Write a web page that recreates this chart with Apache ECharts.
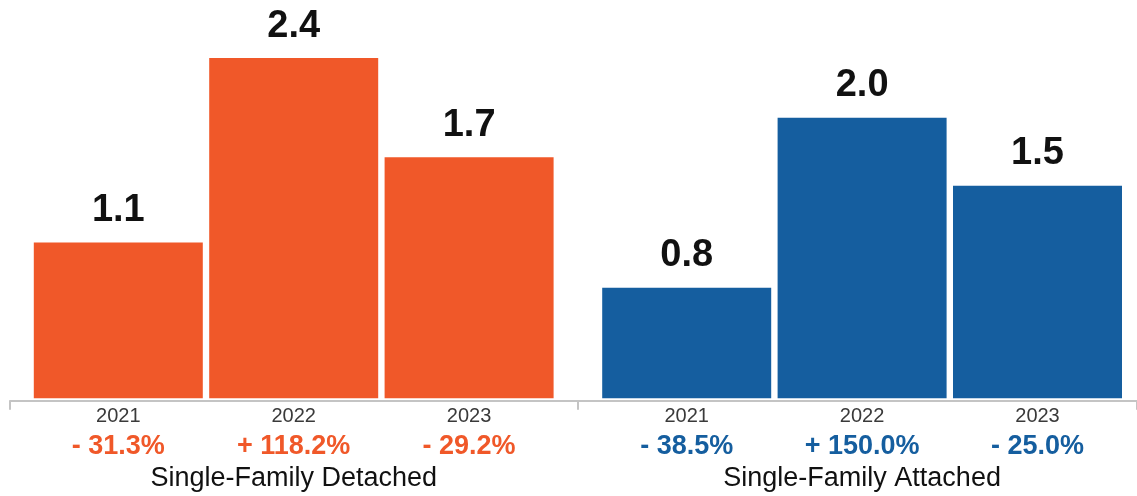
<!DOCTYPE html>
<html>
<head>
<meta charset="utf-8">
<script src="https://cdn.jsdelivr.net/npm/echarts@6/dist/echarts.min.js"></script>
<style>
html,body{margin:0;padding:0;background:#fff;}
#chart{width:1137px;height:496px;}
</style>
</head>
<body>
<div id="chart"></div>
<script>
const categories = ['2021', '2022', '2023'];
const detachedValues = [1.1, 2.4, 1.7];
const attachedValues = [0.78, 1.98, 1.5];
const detachedChange = ['- 31.3%', '+ 118.2%', '- 29.2%'];
const attachedChange = ['- 38.5%', '+ 150.0%', '- 25.0%'];
const groupNames = ['Single-Family Detached', 'Single-Family Attached'];

const ORANGE = '#F05829';
const BLUE = '#155E9F';
const FONT = '"Liberation Sans", Arial, Helvetica, sans-serif';

function xCat(gridIndex, changes, color, name) {
  return {
    type: 'category', gridIndex: gridIndex, data: categories,
    axisLine: {show: false}, axisTick: {show: false},
    name: name, nameLocation: 'middle', nameGap: 65,
    nameTextStyle: {fontFamily: FONT, fontSize: 27, color: '#111'},
    axisLabel: {
      margin: 3, interval: 0,
      formatter: function (v, i) { return '{y|' + v + '}\n{p|' + changes[i] + '}'; },
      rich: {
        y: {fontFamily: FONT, fontSize: 20, color: '#3a3a3a', lineHeight: 30},
        p: {fontFamily: FONT, fontSize: 27, fontWeight: 'bold', color: color, lineHeight: 31}
      }
    }
  };
}
function yVal(gridIndex) {
  return {type: 'value', gridIndex: gridIndex, min: 0, max: 2.81, show: false, splitLine: {show: false}};
}
function barSeries(idx, values, color) {
  return {
    type: 'bar', xAxisIndex: idx, yAxisIndex: idx, data: values, barWidth: 169,
    itemStyle: {color: color},
    label: {
      show: true, position: 'top', distance: 13,
      fontFamily: FONT, fontSize: 38, fontWeight: 'bold', color: '#111',
      formatter: function (p) { return p.value.toFixed(1); }
    },
    silent: true
  };
}

const chart = echarts.init(document.getElementById('chart'));
chart.setOption({
  animation: false,
  grid: [
    {left: 30.6, width: 526.2, top: 0, bottom: 97.7, outerBoundsMode: 'none', containLabel: false},
    {left: 599, width: 526.2, top: 0, bottom: 97.7, outerBoundsMode: 'none', containLabel: false},
    {left: 10, right: 0, top: 0, bottom: 95.3, outerBoundsMode: 'none', containLabel: false}
  ],
  xAxis: [
    xCat(0, detachedChange, ORANGE, groupNames[0]),
    xCat(1, attachedChange, BLUE, groupNames[1]),
    {
      type: 'value', gridIndex: 2, min: 0, max: 1.985, interval: 1,
      axisLine: {show: true, lineStyle: {color: '#c4c4c4', width: 2}},
      axisTick: {show: true, length: 9, lineStyle: {color: '#c4c4c4', width: 2}},
      axisLabel: {show: false}, splitLine: {show: false}
    }
  ],
  yAxis: [yVal(0), yVal(1), {type: 'value', gridIndex: 2, show: false, splitLine: {show: false}}],
  series: [
    barSeries(0, detachedValues, ORANGE),
    barSeries(1, attachedValues, BLUE)
  ]
});
</script>
</body>
</html>
